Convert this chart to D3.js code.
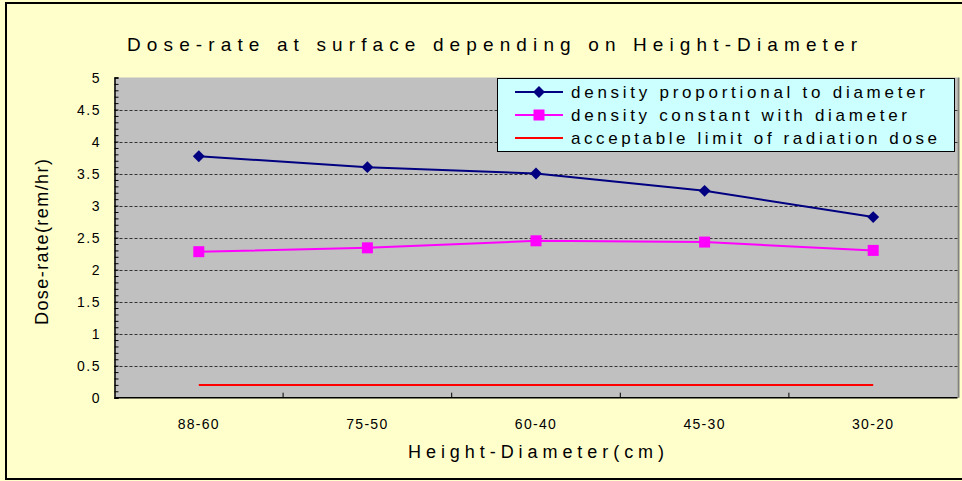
<!DOCTYPE html>
<html><head><meta charset="utf-8">
<script src="https://cdn.jsdelivr.net/npm/d3@7"></script>
<style>html,body{margin:0;padding:0;background:#fff;overflow:hidden}text{font-family:"Liberation Sans",Arial,sans-serif}</style>
</head><body><svg id="c" width="962" height="481"></svg>
<script>
const categories = ["88-60","75-50","60-40","45-30","30-20"];
const proportional = [3.77, 3.60, 3.50, 3.23, 2.82];
const constant = [2.28, 2.34, 2.45, 2.43, 2.30];
const limit = [0.2, 0.2, 0.2, 0.2, 0.2];
const yTicks = [0,0.5,1,1.5,2,2.5,3,3.5,4,4.5,5];
const yTickLabels = ["0","0.5","1","1.5","2","2.5","3","3.5","4","4.5","5"];
const seriesNames = ["density proportional to diameter","density constant with diameter","acceptable limit of radiation dose"];
const title = "Dose-rate at surface depending on Height-Diameter";
const xTitle = "Height-Diameter(cm)";
const yTitle = "Dose-rate(rem/hr)";

const svg = d3.select("#c");
const L=114.5, R=957.5, T=77.5, B=397.7;
svg.append("rect").attr("x",0).attr("y",0).attr("width",962).attr("height",481).attr("fill","#FFFFCC");
svg.append("rect").attr("x",6).attr("y",3).attr("width",1000).attr("height",476).attr("fill","none").attr("stroke","#000").attr("stroke-width",2);

const x = d3.scaleBand().domain(categories).range([L,R]);
const y = d3.scaleLinear().domain([0,5]).range([B,T]);

svg.append("rect").attr("x",L).attr("y",T).attr("width",R-L).attr("height",B-T).attr("fill","#C0C0C0");
svg.append("line").attr("x1",R+1).attr("x2",R+1).attr("y1",T).attr("y2",B).attr("stroke","#808080").attr("stroke-width",2);

// gridlines
svg.append("g").selectAll("line").data(yTicks.filter(d=>d>0&&d<5)).join("line")
  .attr("x1",L).attr("x2",R).attr("y1",d=>Math.round(y(d))+0.5).attr("y2",d=>Math.round(y(d))+0.5)
  .attr("stroke","#333").attr("stroke-width",1).attr("stroke-dasharray","3,2");

// y axis
const yAxis = d3.axisLeft(y).tickValues(d3.range(0,50.5,1).map(d=>d/10)).tickSize(-4).tickFormat("");
const gy = svg.append("g").attr("transform",`translate(${L},0)`).call(yAxis);
gy.selectAll("line").attr("stroke","#000");
gy.select(".domain").attr("stroke","#000").attr("stroke-width",1.5);
svg.append("g").selectAll("text").data(yTicks).join("text")
  .attr("x",101).attr("y",d=>y(d)+5).attr("text-anchor","end").attr("font-size",14).attr("letter-spacing",1.5)
  .text((d,i)=>yTickLabels[i]);

// x axis
const xb = d3.scaleLinear().domain([0,5]).range([L,R]);
svg.append("line").attr("x1",L).attr("x2",R).attr("y1",B).attr("y2",B).attr("stroke","#000").attr("stroke-width",1.5);
svg.append("g").selectAll("line").data([1,2,3,4]).join("line")
  .attr("x1",d=>xb(d)).attr("x2",d=>xb(d)).attr("y1",B).attr("y2",B-5).attr("stroke","#000");
svg.append("g").selectAll("text").data(categories).join("text")
  .attr("x",d=>x(d)+x.bandwidth()/2).attr("y",429).attr("text-anchor","middle").attr("font-size",14).attr("letter-spacing",1.3)
  .text(d=>d);

const cx = d=>x(d)+x.bandwidth()/2;
const line = d3.line().x(d=>cx(d[0])).y(d=>y(d[1]));

// red limit
svg.append("path").datum(categories.map((c,i)=>[c,limit[i]])).attr("d",line).attr("fill","none").attr("stroke","#FF0000").attr("stroke-width",2);
// pink
svg.append("path").datum(categories.map((c,i)=>[c,constant[i]])).attr("d",line).attr("fill","none").attr("stroke","#FF00FF").attr("stroke-width",2);
svg.append("g").selectAll("rect").data(categories.map((c,i)=>[c,constant[i]])).join("rect")
  .attr("x",d=>cx(d[0])-5.5).attr("y",d=>y(d[1])-5.5).attr("width",11).attr("height",11).attr("fill","#FF00FF");
// blue
svg.append("path").datum(categories.map((c,i)=>[c,proportional[i]])).attr("d",line).attr("fill","none").attr("stroke","#000080").attr("stroke-width",2);
const diamond = d3.symbol().type(d3.symbolDiamond2).size(90);
svg.append("g").selectAll("path").data(categories.map((c,i)=>[c,proportional[i]])).join("path")
  .attr("transform",d=>`translate(${cx(d[0])},${y(d[1])})`).attr("d",diamond).attr("fill","#000080");

// legend
const lg = svg.append("g");
lg.append("rect").attr("x",497.5).attr("y",78.5).attr("width",457).attr("height",73).attr("fill","#CCFFFF").attr("stroke","#000");
const rows=[92,115,138], colors=["#000080","#FF00FF","#FF0000"], lens=[354,336,366];
seriesNames.forEach((n,i)=>{
  lg.append("line").attr("x1",515).attr("x2",563).attr("y1",rows[i]).attr("y2",rows[i]).attr("stroke",colors[i]).attr("stroke-width",2);
  if(i===0) lg.append("path").attr("transform",`translate(539,${rows[i]})`).attr("d",diamond).attr("fill",colors[i]);
  if(i===1) lg.append("rect").attr("x",533.5).attr("y",rows[i]-5.5).attr("width",11).attr("height",11).attr("fill",colors[i]);
  lg.append("text").attr("x",571).attr("y",rows[i]+6).attr("font-size",17)
    .attr("textLength",lens[i]).attr("lengthAdjust","spacing").text(n);
});

// titles
svg.append("text").attr("x",492).attr("y",51).attr("text-anchor","middle").attr("font-size",19)
  .attr("textLength",730).attr("lengthAdjust","spacing").text(title);
svg.append("text").attr("x",536).attr("y",458).attr("text-anchor","middle").attr("font-size",18)
  .attr("textLength",256).attr("lengthAdjust","spacing").text(xTitle);
svg.append("text").attr("transform","translate(48,242) rotate(-90)").attr("text-anchor","middle").attr("font-size",18)
  .attr("textLength",166).attr("lengthAdjust","spacing").text(yTitle);
</script></body></html>
